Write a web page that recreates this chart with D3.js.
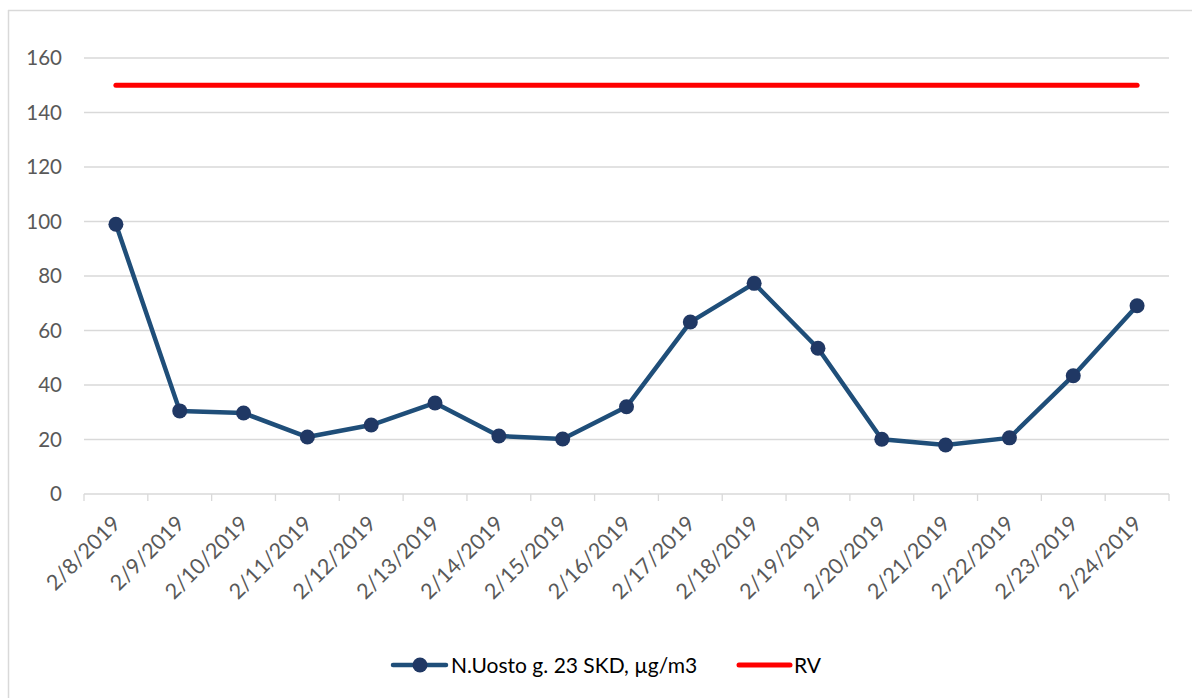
<!DOCTYPE html>
<html><head><meta charset="utf-8">
<script src="https://cdn.jsdelivr.net/npm/d3@7"></script>
<style>body{margin:0;background:#fff}svg{display:block}text{font-family:Lato,"Open Sans",sans-serif}</style>
</head><body><svg id="c" width="1192" height="698"></svg>
<script>
const categories = ["2/8/2019","2/9/2019","2/10/2019","2/11/2019","2/12/2019","2/13/2019","2/14/2019","2/15/2019","2/16/2019","2/17/2019","2/18/2019","2/19/2019","2/20/2019","2/21/2019","2/22/2019","2/23/2019","2/24/2019"];
const seriesValues = [99, 30.5, 29.7, 20.9, 25.3, 33.4, 21.3, 20.2, 32, 63.1, 77.3, 53.5, 20.1, 18, 20.6, 43.4, 69.1];
const rvValues = categories.map(() => 150);
const yTicks = [0,20,40,60,80,100,120,140,160];
const seriesName = "N.Uosto g. 23 SKD, µg/m3";
const rvName = "RV";

const svg = d3.select("#c");
svg.append("line").attr("x1",8.5).attr("x2",8.5).attr("y1",10).attr("y2",698).attr("stroke","#d9d9d9").attr("stroke-width",1.5);
svg.append("line").attr("x1",8).attr("x2",1192).attr("y1",10.5).attr("y2",10.5).attr("stroke","#d9d9d9").attr("stroke-width",1.5);

const x = d3.scaleBand().domain(categories).range([84,1169]);
const y = d3.scaleLinear().domain([0,160]).range([494,58]);

// gridlines
svg.append("g").selectAll("line").data(yTicks.slice(1)).join("line")
  .attr("x1",84).attr("x2",1169).attr("y1",d=>y(d)).attr("y2",d=>y(d))
  .attr("stroke","#d9d9d9").attr("stroke-width",1.3);

// y labels
svg.append("g").selectAll("text").data(yTicks).join("text")
  .attr("x",62).attr("y",d=>y(d)).attr("dy","0.36em").attr("text-anchor","end")
  .attr("font-size",20.5).attr("fill","#595959").text(d=>d);

// x axis
const xa = svg.append("g").attr("transform","translate(0,494)");
xa.append("line").attr("x1",84).attr("x2",1169).attr("stroke","#d9d9d9").attr("stroke-width",1.3);
const bounds = categories.map(c=>x(c)).concat([x.range()[1]]);
xa.selectAll("line.t").data(bounds).join("line").attr("class","t")
  .attr("x1",d=>d).attr("x2",d=>d).attr("y1",0).attr("y2",7).attr("stroke","#d9d9d9").attr("stroke-width",1.3);
xa.selectAll("text").data(categories).join("text")
  .attr("transform",d=>`translate(${x(d)+x.bandwidth()/2+6},${31}) rotate(-45)`)
  .attr("text-anchor","end").attr("font-size",21.5).attr("fill","#595959").text(d=>d);

const cx = d => x(d)+x.bandwidth()/2;

// RV line
svg.append("path").datum(rvValues)
  .attr("d",d3.line().x((d,i)=>cx(categories[i])).y(d=>y(d)))
  .attr("fill","none").attr("stroke","#ff0000").attr("stroke-width",5).attr("stroke-linecap","round");

// series line
svg.append("path").datum(seriesValues)
  .attr("d",d3.line().x((d,i)=>cx(categories[i])).y(d=>y(d)))
  .attr("fill","none").attr("stroke","#1f4e79").attr("stroke-width",4.5).attr("stroke-linejoin","round");
svg.append("g").selectAll("circle").data(seriesValues).join("circle")
  .attr("cx",(d,i)=>cx(categories[i])).attr("cy",d=>y(d)).attr("r",7.5).attr("fill","#203864");

// legend
const lg = svg.append("g").attr("transform","translate(0,665)");
lg.append("line").attr("x1",393).attr("x2",446).attr("stroke","#1f4e79").attr("stroke-width",4.5).attr("stroke-linecap","round");
lg.append("circle").attr("cx",420).attr("r",7.5).attr("fill","#203864");
lg.append("text").attr("x",451).attr("dy","0.36em").attr("font-size",21).attr("fill","#000").text(seriesName);
lg.append("line").attr("x1",739).attr("x2",790).attr("stroke","#ff0000").attr("stroke-width",5).attr("stroke-linecap","round");
lg.append("text").attr("x",794).attr("dy","0.36em").attr("font-size",21).attr("fill","#000").text(rvName);
</script></body></html>
